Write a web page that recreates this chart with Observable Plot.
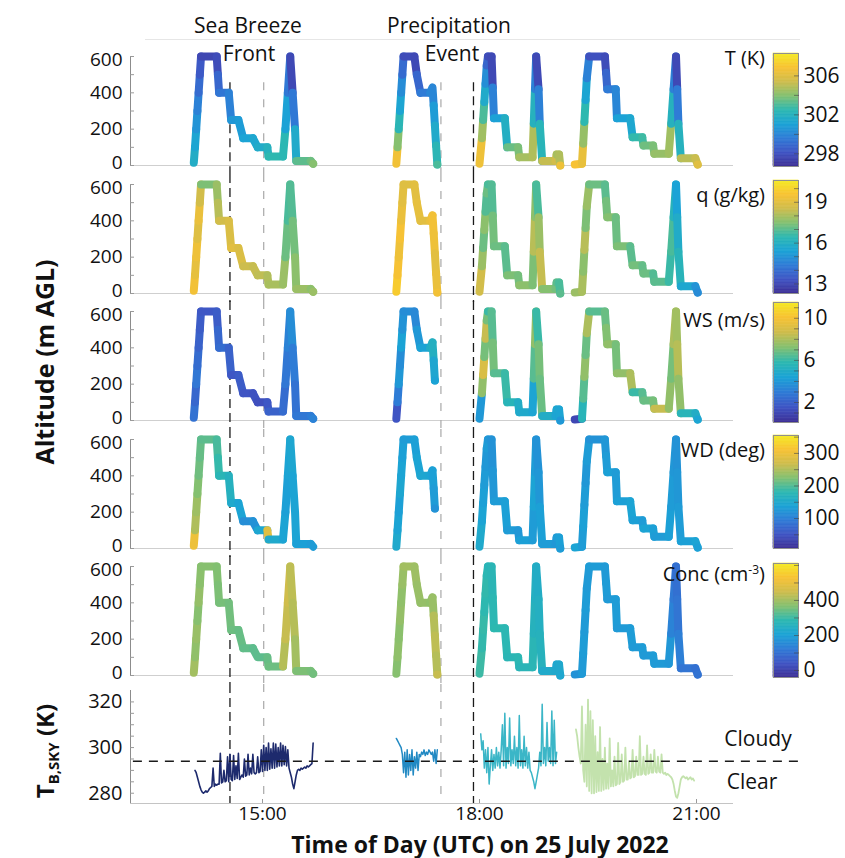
<!DOCTYPE html>
<html><head><meta charset="utf-8">
<script src="https://cdn.jsdelivr.net/npm/d3@7"></script>
<script src="https://cdn.jsdelivr.net/npm/@observablehq/plot@0.6"></script>
<style>
body{margin:0;background:#fff;}
#fig{position:relative;width:845px;height:858px;overflow:hidden;font-family:"Open Sans",sans-serif;color:#111;}
.lbl{position:absolute;white-space:nowrap;line-height:1;color:#111;}
.lbl sup{font-size:12px;vertical-align:7px;}
.lbl sub{font-size:15px;vertical-align:-5px;}
</style></head><body><div id="fig"></div>
<script>
// ---------------- DATA ----------------
// Drone flight paths: time (UTC) and altitude (m AGL) at vertices
const f1Time = ["14:03","14:04","14:05","14:06","14:07","14:08","14:09","14:22","14:23","14:24","14:32","14:34","14:40","14:44","14:52","14:56","15:04","15:05","15:17","15:19","15:21","15:23","15:25","15:27","15:28","15:40","15:42"];
const f1Alt  = [15,100,200,300,400,500,600,600,500,400,400,250,250,150,150,100,100,50,50,200,400,600,400,200,25,25,10];
const f1T    = [301.7,301.2,300.5,299.8,299.0,298.3,297.6,297.8,298.8,299.4,299.8,300.6,300.8,301.1,301.3,301.6,302.0,302.5,302.4,301.0,299.5,297.7,299.5,301.5,303.3,303.6,304.0];
const f1Q    = [19.4,19.1,19.3,18.9,19.2,18.6,17.4,17.8,18.2,18.6,18.8,19.0,18.8,18.5,18.4,18.3,18.1,18.0,17.8,17.2,16.8,16.9,17.3,17.6,17.8,17.6,17.8];
const f1WS   = [2.6,2.2,2.8,2.4,2.0,1.8,1.6,1.8,2.2,2.4,2.0,1.6,1.8,1.5,1.4,1.3,1.6,2.0,2.4,2.8,3.2,3.6,3.0,2.6,2.8,3.0,3.2];
const f1WD   = [300,250,240,225,215,210,205,195,185,175,165,150,140,115,120,145,285,150,140,135,140,145,140,140,135,130,130];
const f1Conc = [400,380,390,370,385,375,370,365,360,355,350,345,340,335,330,330,340,345,420,440,450,430,420,400,360,355,350];

const f2Time = ["16:51","16:52","16:53","16:54","16:55","16:56","16:57","17:06","17:08","17:11","17:19","17:21","17:22","17:23","17:24","17:25"];
const f2Alt  = [10,100,200,300,400,500,600,600,500,400,400,430,330,220,110,5];
const f2T    = [306.6,304.0,302.3,301.2,300.2,299.0,297.8,297.7,298.8,299.6,300.0,300.0,300.8,301.5,302.3,303.0];
const f2Q    = [19.8,19.5,19.3,19.5,19.2,19.0,18.9,19.0,19.1,19.0,19.2,19.4,19.3,19.0,19.2,19.4];
const f2WS   = [1.5,3.0,4.0,3.6,4.4,3.8,3.6,3.4,4.0,4.4,5.0,5.2,4.6,4.4,null,null];
const f2WD   = [150,140,135,145,140,135,130,135,140,145,140,135,130,120,null,null];
const f2Conc = [370,380,375,385,380,390,400,395,390,385,380,390,420,430,420,440];

const f3Time = ["18:00","18:02","18:03","18:04","18:05","18:06","18:07","18:10","18:11","18:12","18:21","18:23","18:32","18:33","18:44","18:45","18:46","18:47","18:49","18:50","18:52","19:03","19:04","19:06","19:07"];
const f3Alt  = [10,150,250,350,450,550,600,600,430,260,260,100,100,45,45,230,420,600,420,230,25,25,60,60,0];
const f3T    = [306.5,304.5,303.0,301.5,300.3,298.8,297.8,297.7,299.8,301.0,301.8,303.5,303.8,304.6,304.8,302.0,299.8,297.7,299.8,302.2,305.2,305.5,304.6,304.8,306.5];
const f3Q    = [18.6,17.8,17.2,17.6,16.9,17.2,16.8,16.9,17.3,17.2,17.0,17.4,17.3,17.6,17.4,18.2,17.6,16.8,17.8,18.4,17.5,17.3,17.0,16.8,17.0];
const f3WS   = [4.0,7.5,9.0,7.0,8.5,7.0,6.0,6.5,7.0,6.5,6.0,5.5,5.0,4.8,4.5,6.5,7.5,6.0,7.0,6.8,5.0,4.5,4.6,4.5,4.0];
const f3WD   = [150,140,135,130,125,130,125,120,125,130,135,130,125,135,130,140,130,120,125,135,130,125,130,135,130];
const f3Conc = [300,290,295,285,290,280,270,275,280,285,280,275,280,270,275,260,250,240,250,260,230,225,220,225,220];

const f4Time = ["19:19","19:25","19:26","19:27","19:28","19:29","19:31","19:44","19:45","19:46","19:53","19:54","20:05","20:07","20:15","20:16","20:24","20:25","20:37","20:39","20:41","20:43","20:44","20:45","20:47","20:59","21:01"];
const f4Alt  = [5,10,120,240,360,480,600,600,510,420,420,260,260,155,155,110,110,65,65,230,420,600,420,230,40,40,5];
const f4T    = [306.8,306.3,304.3,302.5,301.2,299.8,298.0,297.8,298.8,299.6,300.0,301.0,301.3,302.6,302.8,303.6,303.8,304.3,304.5,302.0,299.8,297.7,299.6,302.0,305.0,305.3,306.0];
const f4Q    = [17.8,18.0,17.6,18.2,17.4,17.8,17.2,17.0,17.3,17.5,17.2,17.4,17.0,17.3,17.1,17.2,16.9,17.0,16.6,16.8,16.2,15.4,15.8,16.2,15.6,15.0,14.8];
const f4WS   = [1.0,5.5,6.5,7.5,6.8,8.0,6.5,6.8,7.2,7.5,7.0,7.5,8.0,6.0,6.5,6.8,7.0,8.5,7.5,7.0,8.0,7.8,8.2,7.5,5.5,5.0,4.5];
const f4WD   = [140,130,135,130,125,130,120,125,130,135,130,135,140,135,130,140,135,130,135,130,125,120,125,130,135,140,135];
const f4Conc = [170,185,190,185,190,185,190,185,190,185,190,185,190,185,190,185,190,185,180,140,120,100,110,130,110,100,105];

// Sky brightness temperature (K), one sample per minute from each start time
const tb1Start = "14:04";
const tb1 = [290,289,287,285,283,281.5,280.5,280,280.5,281, 280.5,281,282,282.5,283,291,283,284,283.5,284,
  284,297.5,284.5,285,290,285,285.5,296,285,297, 286,285.5,296.5,286,292,286.5,297.5,286,287,288,
  287,295,287.5,288,297,288,291,288.5,297,289, 288.5,289,296,289,289.5,299,289.5,301,290,300,
  290,302,290.5,299.5,291,302,291,301.5,291.5,300, 292,302,292,301,292.5,300.5,292,299,291,289,
  287,284,282,285,288,290,290.5,290,291,290.5, 291,291.5,291,292,291.5,292,292.5,293,302];
const tb2Start = "16:51";
const tb2 = [304,303,302,301,300,297,289,298,287,299, 288,297,290,299,288,296,291,298,290,297,
  296,298,297,299,296.5,298,297,299,298,297, 298,294,299,293,299];
const tb3Start = "18:01";
const tb3 = [306,299,303,291,299,289,300,284,292,299, 290,297,291,300,292,298,291,299,310,292,
  315,291,300,293,313,292,299,293,305,292, 300,291,314,292,299,291,305,292,300,291,
  298,290,289,287,285,282,285,288,291,298, 292,319,293,300,292,311,294,300,293,316, 292,312,293,298];
const tb4Start = "19:20";
const tb4 = [308,305,300,296,293,318,290,285,310,283, 321,281,316,280,312,280,305,280.5,298,281,
  309,281,295,281.5,300,282,293,282,304,283, 290,283,296,283.5,284,302,284,285,297,285,
  285.5,300,286,286,294,286.5,287,299,287,287.5, 296,288,288,305,288,288.5,296,288.5,288,301,
  288.5,289,297,289,289,299,289.5,289,296,289.5, 289,297,289,288.5,289,288,288.5,288,287.5,287,
  286,284,281,278.5,278,280,283,286,287,287.5, 287,286.5,287,286,286.5,287,286,286.5,285.5];
const tbThreshold = 294;

// Event marker times
const eventBlack = ["14:33","17:55"];
const eventGray  = ["15:01","17:28"];

// Colour-bar domains and tick labels
const tDomain = [296.7, 308.3],  tTicks = [298, 302, 306];
const qDomain = [12.3, 20.6],    qTicks = [13, 16, 19];
const wsDomain = [0.1, 11.5],    wsTicks = [2, 6, 10];
const wdDomain = [8, 355],       wdTicks = [100, 200, 300];
const concDomain = [-40, 611],   concTicks = [0, 200, 400];
const altTicks = [0, 200, 400, 600];
const tbTicks = [280, 300, 320];
const timeTicks = [15, 18, 21];

// ---------------- RENDER ----------------
const fig = document.getElementById("fig");
const hm = s => { const [h, m] = s.split(":").map(Number); return h + m / 60; };
const parula = d3.piecewise(d3.interpolateRgb,
  ["#3e2f95","#3f55c4","#2f7bd6","#1ba3d6","#2db8b0","#84c070","#cfbd4c","#f8c233","#f4ea23"]);
const xDomain = [13.175, 21.5115];
const baseStyle = {fontFamily: "'Open Sans', sans-serif", fontSize: "20px", color: "#111", background: "none", overflow: "visible"};

function place(node, left, topPx) {
  node.style.position = "absolute"; node.style.left = left + "px"; node.style.top = topPx + "px";
  fig.appendChild(node);
}
function label(html, x, y, o = {}) {
  const d = document.createElement("div");
  d.className = "lbl"; d.innerHTML = html;
  d.style.left = x + "px"; d.style.top = y + "px";
  d.style.fontSize = (o.size || 21) + "px"; d.style.fontWeight = o.weight || 400;
  const tx = o.anchor === "end" ? "-100%" : "-50%";
  d.style.transform = `translate(${tx},-50%)` + (o.rotate ? ` rotate(${o.rotate}deg)` : "");
  fig.appendChild(d);
}

const flights = [
  {time: f1Time, alt: f1Alt, T: f1T, q: f1Q, ws: f1WS, wd: f1WD, conc: f1Conc},
  {time: f2Time, alt: f2Alt, T: f2T, q: f2Q, ws: f2WS, wd: f2WD, conc: f2Conc},
  {time: f3Time, alt: f3Alt, T: f3T, q: f3Q, ws: f3WS, wd: f3WD, conc: f3Conc},
  {time: f4Time, alt: f4Alt, T: f4T, q: f4Q, ws: f4WS, wd: f4WD, conc: f4Conc}
];
const rows = (f, key) => f.time.map((t, i) => ({t: hm(t), alt: f.alt[i], v: f[key][i]})).filter(d => d.v != null);

const vars = [
  {key: "T", label: "T (K)", domain: tDomain, ticks: tTicks, minor: d3.range(298, 307, 2), cbTop: 53, cbBot: 166, ly: 58},
  {key: "q", label: "q (g/kg)", domain: qDomain, ticks: qTicks, minor: d3.range(13, 21, 1), cbTop: 180, cbBot: 293, ly: 195},
  {key: "ws", label: "WS (m/s)", domain: wsDomain, ticks: wsTicks, minor: d3.range(1, 12, 1), cbTop: 302, cbBot: 422, ly: 320},
  {key: "wd", label: "WD (deg)", domain: wdDomain, ticks: wdTicks, minor: d3.range(50, 351, 50), cbTop: 435, cbBot: 548, ly: 450},
  {key: "conc", label: "Conc (cm<sup>-3</sup>)", domain: concDomain, ticks: concTicks, minor: d3.range(0, 601, 100), cbTop: 563, cbBot: 677, ly: 574}
];

const PH = 128, PMT = 10, PMB = 9;
const panelTops = [46, 174, 301, 429, 556];
const kAlt = 600 / (PH - PMT - PMB);
const yTopExt = 600 + PMT * kAlt, yBotExt = -PMB * kAlt;

function eventRules(y1, y2) {
  return [
    Plot.ruleX(eventGray.map(hm), {y1, y2, stroke: "#a8a8a8", strokeWidth: 1.2, strokeDasharray: "8,9"}),
    Plot.ruleX(eventBlack.map(hm), {y1, y2, stroke: "#1a1a1a", strokeWidth: 1.3, strokeDasharray: "9,5"})
  ];
}

vars.forEach((v, i) => {
  const svg = Plot.plot({
    width: 845, height: PH, marginLeft: 130, marginRight: 112, marginTop: PMT, marginBottom: PMB,
    style: {...baseStyle, fontSize: "19px"},
    x: {domain: xDomain, axis: null, label: null},
    y: {domain: [0, 600], label: null},
    color: {type: "linear", domain: v.domain, interpolate: parula, clamp: true},
    marks: [
      Plot.ruleY([0], {stroke: "#cfcfcf"}),
      Plot.ruleX([xDomain[0]], {y1: 0, y2: 600, stroke: "#8c8c8c"}),
      Plot.axisY({ticks: altTicks.slice(0, 1), tickSize: 0, tickPadding: 8, dy: -3, label: null}),
      Plot.axisY({ticks: altTicks.slice(1, -1), tickSize: 0, tickPadding: 8, label: null}),
      Plot.axisY({ticks: altTicks.slice(-1), tickSize: 0, tickPadding: 8, dy: 3, label: null}),
      Plot.axisY({ticks: d3.range(0, 601, 100), tickSize: -4, tickFormat: () => "", stroke: "#9a9a9a", label: null}),
      ...eventRules(i === 0 ? 455 : yTopExt, yBotExt),
      ...flights.map(f => Plot.line(rows(f, v.key), {
        x: "t", y: "alt", stroke: "v", z: null, strokeWidth: 8,
        strokeLinecap: "round", strokeLinejoin: "round"}))
    ]
  });
  place(svg, 0, panelTops[i]);

  // colour bar
  const [lo, hi] = v.domain, n = 80;
  const bins = d3.range(n).map(k => ({a: lo + (hi - lo) * k / n, b: lo + (hi - lo) * (k + 1) / n}));
  const cb = Plot.plot({
    width: 80, height: v.cbBot - v.cbTop + 8, marginLeft: 0, marginRight: 55, marginTop: 4, marginBottom: 4,
    style: {...baseStyle, fontSize: "21px"},
    x: {domain: [0, 1], axis: null, label: null},
    y: {domain: v.domain, label: null},
    color: {type: "linear", domain: v.domain, interpolate: parula, clamp: true},
    marks: [
      Plot.rect(bins, {x1: 0, x2: 1, y1: "a", y2: "b", fill: d => (d.a + d.b) / 2, stroke: d => (d.a + d.b) / 2, strokeWidth: 0.6}),
      Plot.frame({stroke: "#8f8f8f"}),
      Plot.axisY({anchor: "right", ticks: v.minor, tickSize: -5, tickFormat: () => "", stroke: "#444", strokeOpacity: 0.6, label: null}),
      Plot.axisY({anchor: "right", ticks: v.ticks, tickSize: 0, tickPadding: 5, label: null})
    ]
  });
  place(cb, 773, v.cbTop - 4);
  label(v.label, 765, v.ly, {size: 20, anchor: "end"});
});

// Sky brightness temperature panel
const tbSeries = [
  {start: tb1Start, vals: tb1, color: "#1d2a6d", w: 1.6},
  {start: tb2Start, vals: tb2, color: "#2189c3", w: 1.5},
  {start: tb3Start, vals: tb3, color: "#3bb6c7", w: 1.5},
  {start: tb4Start, vals: tb4, color: "#c3e2ad", w: 1.8}
];
const TBT = 684, TMT = 6, TMB = 55, TH = 174;
const tbDomain = [275.5, 325];
const tbTopExt = tbDomain[1] + TMT * (tbDomain[1] - tbDomain[0]) / (TH - TMT - TMB);
const tbPlot = Plot.plot({
  width: 845, height: TH, marginLeft: 130, marginRight: 112, marginTop: TMT, marginBottom: TMB,
  style: baseStyle,
  x: {domain: xDomain, label: null},
  y: {domain: tbDomain, label: null},
  marks: [
    Plot.ruleY([tbDomain[0]], {stroke: "#c4c4c4"}),
    Plot.ruleX([xDomain[0]], {stroke: "#8c8c8c"}),
    Plot.axisY({ticks: tbTicks, tickSize: 0, tickPadding: 8, label: null}),
    Plot.axisY({ticks: d3.range(280, 325, 5), tickSize: -4, tickFormat: () => "", stroke: "#9a9a9a", label: null}),
    Plot.axisX({ticks: timeTicks, tickSize: 0, tickPadding: 3, fontSize: 19, tickFormat: h => `${h}:00`, label: null}),
    Plot.axisX({ticks: timeTicks, tickSize: -4, tickFormat: () => "", stroke: "#9a9a9a", label: null}),
    ...eventRules(tbTopExt, tbDomain[0]),
    ...tbSeries.map(s => Plot.line(s.vals.map((val, i) => ({t: hm(s.start) + i / 60, v: val})),
      {x: "t", y: "v", stroke: s.color, strokeWidth: s.w})),
    Plot.ruleY([tbThreshold], {x1: xDomain[0] + 0.04, x2: 22.45, stroke: "#1a1a1a", strokeWidth: 1.4, strokeDasharray: "9,7"})
  ]
});
place(tbPlot, 0, TBT);

// faint top frame line
const topLine = document.createElement("div");
topLine.style.cssText = "position:absolute;left:145px;top:39px;width:655px;height:0;border-top:1px solid #e6e6e6;";
fig.appendChild(topLine);

// annotations
label("Sea Breeze", 248, 25);
label("Front", 249, 53);
label("Precipitation", 449, 25);
label("Event", 452, 53);
label("Cloudy", 758, 738);
label("Clear", 752, 781);
label("Altitude (m AGL)", 44, 362, {size: 25, weight: 700, rotate: -90});
label("T<sub>B,SKY</sub> (K)", 47, 751, {size: 24, weight: 700, rotate: -90});
label("Time of Day (UTC) on 25 July 2022", 480, 844, {size: 23, weight: 700});
</script></body></html>
